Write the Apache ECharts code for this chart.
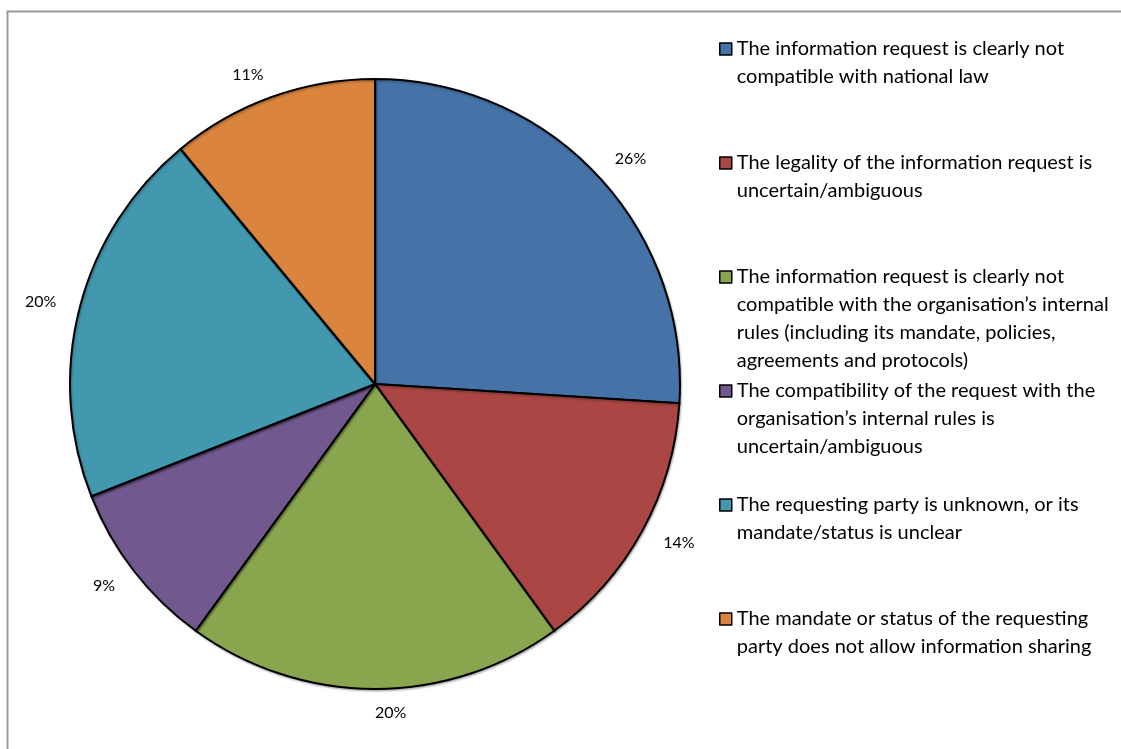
<!DOCTYPE html>
<html>
<head>
<meta charset="utf-8">
<script src="https://cdn.jsdelivr.net/npm/echarts@6/dist/echarts.min.js"></script>
<style>
  html, body { margin: 0; padding: 0; background: #fff; }
  #chart { width: 1121px; height: 749px; }
</style>
</head>
<body>
<div id="chart"></div>
<script>
// Reasons for refusing an information request (share of responses, %)
const categoryLines = [
  ['The information request is clearly not', 'compatible with national law'],
  ['The legality of the information request is', 'uncertain/ambiguous'],
  ['The information request is clearly not', 'compatible with the organisation\u2019s internal', 'rules (including its mandate, policies,', 'agreements and protocols)'],
  ['The compatibility of the request with the', 'organisation\u2019s internal rules is', 'uncertain/ambiguous'],
  ['The requesting party is unknown, or its', 'mandate/status is unclear'],
  ['The mandate or status of the requesting', 'party does not allow information sharing']
];
const categories = categoryLines.map(l => l.join(' '));
const values = [26, 14, 20, 9, 20, 11];
const colors = ['#4572A7', '#AA4643', '#89A54E', '#71588F', '#4198AF', '#DB843D'];

const FONT = 'Lato, "Open Sans", sans-serif';
const LINE_H = 28;

const chart = echarts.init(document.getElementById('chart'), null, { renderer: 'canvas' });

// One legend block per entry so every entry sits on a fixed 114px pitch.
// The swatch is centred on the text block, so blank lines are put above a
// wrapped label to keep the swatch level with its first line.
const legends = categoryLines.map((lines, i) => {
  const pad = lines.length - 1;
  const text = new Array(pad).fill('\u00a0').concat(lines).join('\n');
  return {
    data: [categories[i]],
    left: 719,
    top: 35 + 114 * i - LINE_H * pad,
    padding: 0,
    orient: 'vertical',
    icon: 'rect',
    itemWidth: 12,
    itemHeight: 12,
    itemGap: 0,
    selectedMode: false,
    itemStyle: { borderColor: '#000', borderWidth: 1.5 },
    textStyle: {
      fontFamily: FONT,
      fontSize: 20,
      color: '#000',
      lineHeight: LINE_H
    },
    formatter: () => text
  };
});

chart.setOption({
  animation: false,
  backgroundColor: '#fff',
  color: colors,
  legend: legends,
  graphic: [{
    type: 'rect',
    shape: { x: 7.5, y: 11.5, width: 1200, height: 800 },
    style: { fill: 'none', stroke: '#9a9a9a', lineWidth: 2 },
    silent: true
  }],
  series: [{
    type: 'pie',
    center: [375, 384],
    radius: [0, 305],
    startAngle: 90,
    clockwise: true,
    avoidLabelOverlap: false,
    data: categories.map((name, i) => ({ name, value: values[i] })),
    itemStyle: {
      borderColor: '#000',
      borderWidth: 2,
      shadowColor: 'rgba(0,0,0,0.25)',
      shadowBlur: 2,
      shadowOffsetX: 1,
      shadowOffsetY: 1.5
    },
    label: {
      show: true,
      position: 'outside',
      formatter: p => p.value + '%',
      fontFamily: FONT,
      fontSize: 16,
      color: '#000',
      distanceToLabelLine: 0
    },
    labelLine: { show: false, length: 24, length2: 0 },
    emphasis: { disabled: true }
  }]
});
</script>
</body>
</html>
